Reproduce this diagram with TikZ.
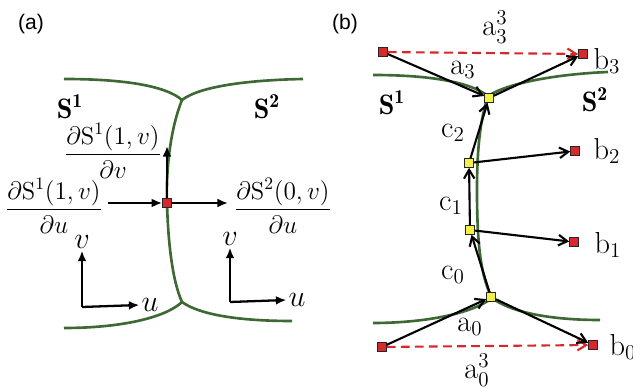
\documentclass[tikz,border=0pt]{standalone}
\usepackage{amsmath}
\usepackage{fontspec}
\newfontfamily\panelfont{Liberation Sans}
\usetikzlibrary{arrows.meta}

\definecolor{seam}{RGB}{62,104,52}
\definecolor{ptred}{RGB}{215,40,45}
\definecolor{ptyel}{RGB}{245,240,70}

\begin{document}
\begin{tikzpicture}[
    x={(0.02cm,0cm)},
    y={(0cm,-0.02cm)},
    seamline/.style={line width=1.5pt, seam},
    redpt/.style={draw=black!85, fill=ptred, minimum size=0.17cm, inner sep=0pt, line width=0.6pt},
    yelpt/.style={draw=black!85, fill=ptyel, minimum size=0.17cm, inner sep=0pt, line width=0.6pt},
    deriv/.style={line width=1.3pt, -{Latex[length=6pt,width=5pt]}},
    vecarr/.style={line width=1.2pt, -{Straight Barb[length=5pt,width=6pt]}},
    projarr/.style={line width=1.2pt, ptred, dash pattern=on 5pt off 3pt, -{Straight Barb[length=5pt,width=6pt]}},
    panel/.style={font=\panelfont\large},
    frc/.style={font=\fontsize{14}{16}\selectfont},
    surf/.style={font=\fontsize{16}{18}\selectfont},
    lbl/.style={font=\LARGE, inner sep=1pt}
]
\useasboundingbox (0,0) rectangle (633,388);

% Panel (a): seam between the two patches
\coordinate (JTa) at (182,100);
\coordinate (JBa) at (182,302);
\draw[seamline] (64,79) .. controls (120,79) and (165,85) .. (JTa);
\draw[seamline] (JTa) .. controls (200,86) and (250,80) .. (303,79);
\draw[seamline] (JTa) .. controls (170,130) and (166,170) .. (167,203)
    .. controls (168,240) and (172,280) .. (JBa);
\draw[seamline] (JBa) .. controls (165,318) and (120,328) .. (64,328);
\draw[seamline] (JBa) .. controls (200,315) and (240,321) .. (292,321);

\node[panel] (pa) at (31,24) {(a)};
\node[surf] (S1a) at (70,107) {$\mathbf{S}^{\mathbf{1}}$};
\node[surf] (S2a) at (267,107) {$\mathbf{S}^{\mathbf{2}}$};

% Derivatives at the corner point
\node[redpt] (Q) at (167,203) {};
\coordinate (Vtip) at (167,146);
\coordinate (Lstart) at (108,203);
\coordinate (Rtip) at (228,203);
\draw[deriv] (Q) -- (Vtip);
\draw[deriv] (Lstart) -- (Q);
\draw[deriv] (Q) -- (Rtip);

\node[frc] (dva) at (113,151) {$\dfrac{\partial\mathrm{S}^1(1,v)}{\partial v}$};
\node[frc] (dua) at (54,206) {$\dfrac{\partial\mathrm{S}^1(1,v)}{\partial u}$};
\node[frc] (dub) at (283,206) {$\dfrac{\partial\mathrm{S}^2(0,v)}{\partial u}$};

% Parameter axes
\coordinate (O1) at (82,307);
\coordinate (O2) at (230,302);
\node[lbl] (v1) at (82,242) {$v$};
\node[lbl] (u1) at (150,305) {$u$};
\node[lbl] (v2) at (230,239) {$v$};
\node[lbl] (u2) at (297,300) {$u$};
\draw[deriv] (O1) -- (v1.south);
\draw[deriv] (O1) -- (u1.west);
\draw[deriv] (O2) -- (v2.south);
\draw[deriv] (O2) -- (u2.west);

% Panel (b): seam
\coordinate (JTb) at (488,96);
\coordinate (JBb) at (492,298);
\draw[seamline] (373,75) .. controls (430,75) and (470,82) .. (JTb);
\draw[seamline] (JTb) .. controls (510,82) and (560,74) .. (608,72);
\draw[seamline] (JTb) .. controls (480,120) and (477,150) .. (477,190)
    .. controls (477,240) and (480,275) .. (JBb);
\draw[seamline] (JBb) .. controls (470,315) and (420,323) .. (373,323);
\draw[seamline] (JBb) .. controls (515,315) and (560,320) .. (600,320);

\node[panel] (pb) at (345,24) {(b)};
\node[surf] (S1b) at (392,103) {$\mathbf{S}^{\mathbf{1}}$};
\node[surf] (S2b) at (595,100) {$\mathbf{S}^{\mathbf{2}}$};

% Control points
\node[redpt] (P3) at (383,52) {};
\node[redpt] (B3) at (583,54) {};
\node[yelpt] (Y3) at (489,98) {};
\node[yelpt] (Y2) at (469,163) {};
\node[redpt] (B2) at (575,151) {};
\node[yelpt] (Y1) at (470,230) {};
\node[redpt] (B1) at (574,242) {};
\node[yelpt] (Y0) at (491,297) {};
\node[redpt] (P0) at (382,347) {};
\node[redpt] (B0) at (593,345) {};

\draw[projarr] (P3) -- (B3);
\draw[projarr] (P0) -- (B0);
\draw[vecarr] (P3) -- (Y3);
\draw[vecarr] (Y3) -- (B3);
\draw[vecarr] (Y2) -- (Y3);
\draw[vecarr] (Y2) -- (B2);
\draw[vecarr] (Y1) -- (Y2);
\draw[vecarr] (Y1) -- (B1);
\draw[vecarr] (Y0) -- (Y1);
\draw[vecarr] (P0) -- (Y0);
\draw[vecarr] (Y0) -- (B0);

\node[lbl] (la33) at (495,27) {$\mathrm{a}_3^3$};
\node[lbl] (la3) at (463,70) {$\mathrm{a}_3$};
\node[lbl] (lb3) at (607,61) {$\mathrm{b}_3$};
\node[lbl] (lc2) at (453,133) {$\mathrm{c}_2$};
\node[lbl] (lb2) at (607,151) {$\mathrm{b}_2$};
\node[lbl] (lc1) at (451,206) {$\mathrm{c}_1$};
\node[lbl] (lb1) at (608,245) {$\mathrm{b}_1$};
\node[lbl] (lc0) at (453,275) {$\mathrm{c}_0$};
\node[lbl] (la0) at (470,327) {$\mathrm{a}_0$};
\node[lbl] (la03) at (477,370) {$\mathrm{a}_0^3$};
\node[lbl] (lb0) at (623,347) {$\mathrm{b}_0$};
\end{tikzpicture}
\end{document}
